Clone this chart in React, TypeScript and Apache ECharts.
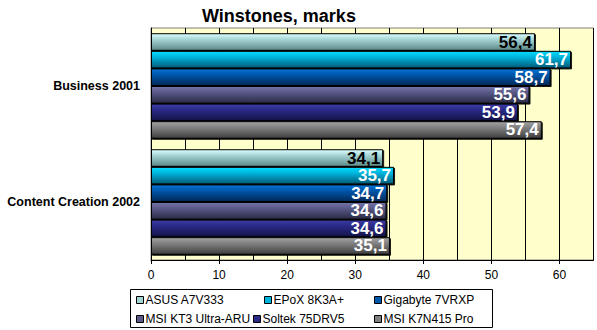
import React, { useEffect, useRef } from "react";
import * as echarts from "echarts";

const categories = ["Business 2001", "Content Creation 2002"];
const seriesNames = [
  "ASUS A7V333",
  "EPoX 8K3A+",
  "Gigabyte 7VRXP",
  "MSI KT3 Ultra-ARU",
  "Soltek 75DRV5",
  "MSI K7N415 Pro",
];
const asus = [56.4, 34.1];
const epox = [61.7, 35.7];
const gigabyte = [58.7, 34.7];
const msiKt3 = [55.6, 34.6];
const soltek = [53.9, 34.6];
const msiK7n = [57.4, 35.1];
const seriesValues = [asus, epox, gigabyte, msiKt3, soltek, msiK7n];
const tickLabels = [0, 10, 20, 30, 40, 50, 60];

// styles
const gradients = [
  ["#dcffff", "#a6d4d4", "#5a8888"],
  ["#08dcff", "#00b4dc", "#005a78"],
  ["#0a74d4", "#0058ac", "#002858"],
  ["#7474aa", "#5a5a88", "#2a2a46"],
  ["#3c3ca4", "#2a2a88", "#141448"],
  ["#a4a4a4", "#808080", "#3e3e3e"],
];
const labelColors = ["#000", "#fff", "#fff", "#fff", "#fff", "#fff"];
const legendPos = [
  [136, 294],
  [264, 294],
  [374, 294],
  [136, 313],
  [253, 313],
  [374, 313],
];
const FONT = 'Arial, "Liberation Sans", sans-serif';

function grad(c: string[]) {
  return new echarts.graphic.LinearGradient(0, 0, 0, 1, [
    { offset: 0, color: c[0] },
    { offset: 0.35, color: c[1] },
    { offset: 1, color: c[2] },
  ]);
}

export default function App() {
  const ref = useRef<HTMLDivElement>(null);
  useEffect(() => {
    if (!ref.current) return;
    const chart = echarts.init(ref.current, null, { renderer: "svg" });
    const option: any = {
      animation: false,
      backgroundColor: "#ffffff",
      title: {
        text: "Winstones, marks",
        left: 197,
        top: 2,
        textStyle: { fontFamily: FONT, fontSize: 18, fontWeight: "bold", color: "#000" },
      },
      grid: {
        left: 151,
        right: 3.5,
        top: 28,
        bottom: 70,
        show: true,
        backgroundColor: "#ffffcc",
        borderColor: "#808080",
        borderWidth: 1,
      },
      xAxis: [
        {
          type: "value",
          min: 0,
          max: 65,
          interval: 5,
          axisLine: { show: true, lineStyle: { color: "#000", width: 1 } },
          axisTick: { show: false },
          axisLabel: { show: false },
          splitLine: { show: true, lineStyle: { color: "#000", width: 1 } },
        },
        {
          type: "value",
          min: 0,
          max: 65,
          interval: 10,
          position: "bottom",
          axisLine: { show: false },
          axisTick: {
            show: true,
            length: 4,
            customValues: tickLabels,
            lineStyle: { color: "#000" },
          },
          axisLabel: {
            customValues: tickLabels,
            margin: 9,
            fontFamily: FONT,
            fontSize: 12,
            color: "#000",
            formatter: (v: number) => (v % 10 === 0 && v <= 60 ? String(v) : ""),
          },
          splitLine: { show: false },
        },
      ],
      yAxis: {
        type: "category",
        data: categories,
        inverse: true,
        axisLine: { show: true, lineStyle: { color: "#000" } },
        axisTick: { show: false },
        axisLabel: {
          margin: 11,
          fontFamily: FONT,
          fontSize: 12.5,
          fontWeight: "bold",
          color: "#000",
        },
      },
      legend: seriesNames.map((name, i) => ({
        data: [
          {
            name,
            itemStyle: { color: gradients[i][1], borderColor: "#000", borderWidth: 1 },
          },
        ],
        left: legendPos[i][0],
        top: legendPos[i][1],
        padding: 0,
        itemWidth: 7,
        itemHeight: 7,
        icon: "rect",
        selectedMode: false,
        textStyle: {
          fontFamily: FONT,
          fontSize: 12,
          color: "#000",
          padding: [0, 0, 0, -3],
        },
      })),
      graphic: [
        {
          type: "rect",
          shape: { x: 130.5, y: 289.5, width: 362, height: 38 },
          style: { fill: "none", stroke: "#000", lineWidth: 1 },
          silent: true,
        },
      ],
      series: seriesNames.map((name, i) => ({
        name,
        type: "bar",
        xAxisIndex: 0,
        data: seriesValues[i],
        barGap: "0%",
        barCategoryGap: "9%",
        itemStyle: {
          color: grad(gradients[i]),
          borderColor: "#000",
          borderWidth: 1,
          shadowColor: "rgba(0,0,0,0.9)",
          shadowOffsetX: 1,
          shadowOffsetY: 1,
          shadowBlur: 0,
        },
        label: {
          show: true,
          position: "insideRight",
          distance: 3,
          fontFamily: FONT,
          fontSize: 17,
          fontWeight: "bold",
          color: labelColors[i],
          textShadowColor: i === 0 ? "transparent" : "#000",
          textShadowOffsetX: 1,
          textShadowOffsetY: 1,
          textShadowBlur: 0,
          formatter: (p: any) => String(p.value).replace(".", ","),
        },
      })),
    };
    chart.setOption(option);
    return () => chart.dispose();
  }, []);
  return (
    <div
      ref={ref}
      style={{ position: "absolute", left: 0, top: 0, width: 597, height: 330 }}
    />
  );
}
